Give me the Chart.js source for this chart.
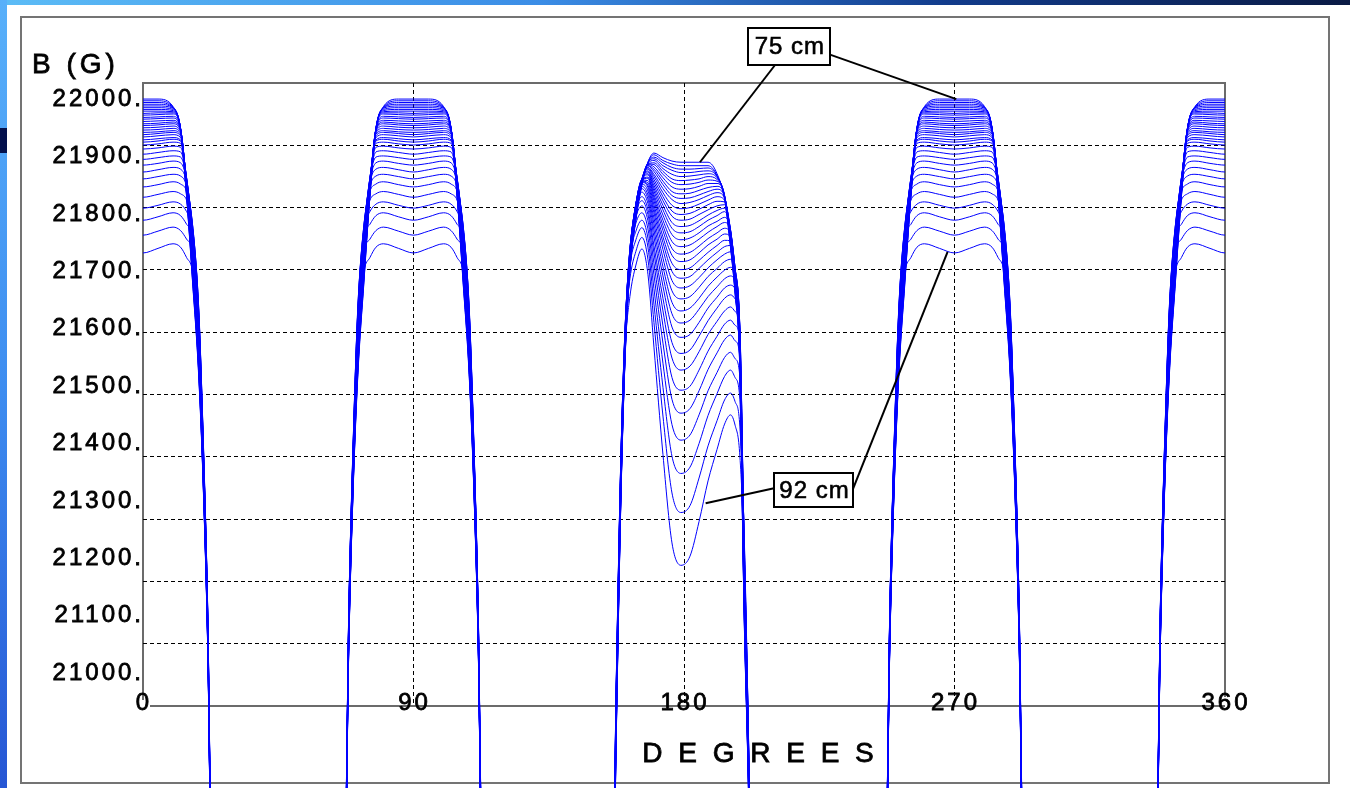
<!DOCTYPE html>
<html>
<head>
<meta charset="utf-8">
<title>B (G) vs DEGREES</title>
<script src="https://cdn.jsdelivr.net/npm/chart.js@4.4.0/dist/chart.umd.min.js"></script>
<style>
  html, body { margin: 0; padding: 0; background: #fff; }
  #slide { position: relative; width: 1350px; height: 788px; overflow: hidden; background: #fff; }
  #topbar { position: absolute; left: 0; top: 0; width: 1350px; height: 5px;
            background: linear-gradient(to right, #5cbcf6, #3b8de6 40%, #123c8c 70%, #0a1a44); }
  #sidebar { position: absolute; left: 0; top: 0; width: 7px; height: 788px;
             background: linear-gradient(to bottom, #58b0fa, #3d8cf0 50%, #2656d4); }
  #sidebar .mark { position: absolute; left: 0; top: 128px; width: 7px; height: 25px; background: #03104c; }
  #frame { position: absolute; left: 20px; top: 16px; width: 1306px; height: 764px; border: 2px solid #747474; }
  canvas { position: absolute; left: 0; top: 0; }
</style>
</head>
<body>
<div id="slide">
  <div id="topbar"></div>
  <div id="sidebar"><div class="mark"></div></div>
  <div id="frame"></div>
  <canvas id="fieldChart" width="1350" height="788"></canvas>
</div>
<script>
const FONT = '"Liberation Sans", Arial, Helvetica, sans-serif';

// one curve per radius, 75 cm (top) down to 92 cm (bottom)
const curveLabels = ['75 cm','75.5 cm','76 cm','76.5 cm','77 cm','77.5 cm','78 cm','78.5 cm','79 cm','79.5 cm',
  '80 cm','80.5 cm','81 cm','81.5 cm','82 cm','82.5 cm','83 cm','83.5 cm','84 cm','84.5 cm',
  '85 cm','85.5 cm','86 cm','86.5 cm','87 cm','87.5 cm','88 cm','88.5 cm','89 cm','89.5 cm',
  '90 cm','90.5 cm','91 cm','91.5 cm','92 cm'];

const degreeTicks = [0, 90, 180, 270, 360];
const fieldTicks = [21000, 21100, 21200, 21300, 21400, 21500, 21600, 21700, 21800, 21900, 22000];

// poles at 0, 90, 270 and 360 deg are alike and symmetric: B (G) at each offset, per curve
const poleCentres = [0, 90, 270, 360];
const poleOffsets = [0, 5, 10, 12.5, 14.5, 16.5, 18.5, 20, 21.5, 23];
const poleB = [
  [22000,21997,21994,21991,21988,21985,21982,21979,21975,21972,21968,21965,21961,21957,21954,21950,21946,21942,21938,21934,21929,21925,21920,21913,21904,21895,21885,21873,21861,21847,21829,21810,21789,21763,21732],
  [22000,21997,21994,21991,21988,21985,21982,21979,21976,21973,21969,21966,21962,21958,21955,21951,21947,21943,21940,21936,21931,21927,21922,21915,21907,21898,21888,21877,21865,21851,21834,21815,21795,21770,21740],
  [21987,21986,21985,21985,21984,21982,21980,21978,21976,21974,21970,21967,21963,21960,21957,21953,21949,21945,21942,21938,21933,21930,21925,21918,21910,21901,21892,21881,21869,21856,21839,21821,21802,21777,21748],
  [21945,21946,21947,21948,21948,21949,21949,21949,21949,21949,21948,21948,21947,21946,21945,21943,21941,21939,21936,21933,21929,21927,21923,21916,21908,21899,21889,21878,21866,21852,21835,21817,21797,21771,21742],
  [21830,21831,21833,21834,21836,21837,21839,21840,21842,21843,21845,21846,21848,21849,21851,21852,21854,21855,21856,21858,21859,21861,21862,21863,21863,21862,21859,21855,21848,21839,21824,21804,21782,21756,21724],
  [21680,21683,21687,21691,21694,21698,21701,21705,21708,21712,21715,21719,21722,21726,21729,21733,21736,21740,21743,21747,21751,21754,21758,21761,21765,21768,21772,21775,21779,21781,21780,21774,21759,21735,21700],
  [21520,21524,21528,21531,21535,21539,21543,21547,21551,21554,21558,21562,21566,21570,21574,21577,21581,21585,21589,21593,21596,21600,21604,21608,21612,21616,21619,21623,21627,21631,21635,21639,21641,21633,21603],
  [21330,21333,21335,21338,21341,21343,21346,21349,21351,21354,21356,21359,21362,21364,21367,21370,21372,21375,21378,21380,21383,21386,21388,21391,21394,21396,21399,21401,21404,21407,21409,21412,21415,21417,21401],
  [21050,21052,21054,21056,21058,21060,21062,21064,21066,21069,21071,21073,21075,21077,21079,21081,21083,21085,21087,21089,21091,21093,21095,21097,21099,21101,21104,21106,21108,21110,21112,21114,21116,21118,21120],
  [20600,20601,20603,20604,20606,20607,20609,20610,20612,20613,20615,20616,20618,20619,20621,20622,20624,20625,20626,20628,20629,20631,20632,20634,20635,20637,20638,20640,20641,20643,20644,20646,20647,20649,20650]
];

// the 180 deg pole, with its dip
const pole180Offsets = [-24, -22.5, -21, -19.5, -18, -16, -14, -12, -10, -7, -4, -1, 2, 5, 8, 11, 13.5, 15.5, 17, 18.5, 20, 21.5, 23];
const pole180B = [
  [20450,20453,20456,20459,20462,20465,20468,20471,20474,20477,20479,20482,20485,20488,20491,20494,20497,20500,20503,20506,20509,20512,20515,20518,20521,20524,20527,20529,20532,20535,20538,20541,20544,20547,20550],
  [20900,20903,20906,20909,20912,20915,20918,20921,20924,20927,20929,20932,20935,20938,20941,20944,20947,20950,20953,20956,20959,20962,20965,20968,20971,20974,20977,20979,20982,20985,20988,20991,20994,20997,21000],
  [21300,21302,21305,21307,21309,21312,21314,21316,21319,21321,21324,21326,21328,21331,21333,21335,21338,21340,21342,21345,21347,21349,21352,21354,21356,21359,21361,21364,21366,21368,21371,21373,21375,21378,21376],
  [21560,21562,21564,21565,21567,21569,21571,21572,21574,21576,21578,21579,21581,21583,21585,21586,21588,21590,21592,21594,21595,21597,21599,21601,21602,21604,21606,21608,21609,21611,21613,21615,21613,21602,21573],
  [21700,21701,21703,21704,21706,21707,21709,21710,21712,21713,21715,21716,21718,21719,21721,21722,21724,21725,21726,21728,21729,21731,21732,21734,21735,21737,21738,21739,21739,21737,21732,21723,21709,21687,21656],
  [21790,21791,21793,21794,21796,21797,21799,21800,21802,21803,21805,21806,21808,21809,21811,21812,21814,21815,21816,21817,21817,21818,21818,21818,21817,21815,21812,21807,21802,21795,21784,21770,21755,21735,21711],
  [21850,21851,21853,21854,21855,21856,21858,21858,21859,21860,21860,21861,21861,21861,21861,21861,21861,21860,21860,21859,21857,21856,21855,21852,21848,21844,21838,21830,21823,21814,21802,21789,21776,21759,21739],
  [21890,21890,21889,21889,21888,21887,21887,21886,21884,21884,21881,21880,21878,21875,21873,21870,21868,21864,21862,21858,21854,21850,21846,21840,21833,21826,21818,21808,21799,21788,21774,21758,21742,21721,21695],
  [21906,21903,21899,21896,21893,21889,21886,21882,21878,21874,21869,21865,21860,21855,21850,21845,21840,21834,21829,21823,21816,21809,21802,21793,21783,21772,21760,21745,21732,21714,21694,21670,21643,21611,21568],
  [21898,21893,21889,21884,21879,21874,21869,21863,21857,21851,21844,21837,21830,21823,21815,21807,21798,21789,21780,21771,21760,21750,21738,21723,21708,21692,21674,21653,21631,21605,21575,21540,21498,21448,21381],
  [21892,21887,21881,21876,21869,21861,21855,21847,21839,21832,21825,21815,21805,21796,21785,21775,21764,21752,21740,21728,21714,21700,21684,21666,21646,21626,21603,21576,21549,21515,21477,21433,21378,21314,21227],
  [21890,21884,21878,21872,21865,21858,21851,21843,21835,21827,21818,21809,21799,21789,21778,21767,21755,21743,21730,21717,21703,21688,21671,21652,21631,21610,21585,21557,21528,21493,21453,21406,21348,21280,21188],
  [21890,21884,21878,21872,21866,21859,21852,21844,21836,21828,21820,21811,21801,21791,21780,21769,21758,21746,21733,21720,21706,21691,21675,21656,21636,21615,21590,21563,21535,21500,21461,21415,21359,21292,21204],
  [21890,21884,21879,21874,21868,21861,21855,21848,21841,21833,21825,21817,21808,21799,21788,21778,21767,21756,21744,21732,21719,21705,21689,21672,21653,21634,21611,21587,21560,21528,21492,21450,21400,21340,21264],
  [21890,21884,21880,21875,21870,21865,21859,21853,21846,21839,21832,21824,21816,21807,21798,21789,21779,21768,21757,21746,21733,21720,21706,21691,21674,21656,21636,21614,21590,21561,21529,21492,21449,21396,21335],
  [21870,21867,21866,21865,21863,21860,21857,21853,21848,21843,21837,21830,21822,21814,21806,21797,21787,21778,21767,21756,21745,21733,21720,21705,21690,21673,21655,21636,21613,21587,21558,21524,21487,21440,21390],
  [21825,21827,21829,21830,21831,21832,21832,21832,21831,21830,21828,21824,21821,21816,21810,21804,21794,21785,21775,21765,21754,21743,21730,21717,21702,21687,21671,21653,21631,21608,21581,21550,21517,21476,21434],
  [21740,21742,21745,21747,21749,21752,21754,21756,21759,21761,21764,21766,21768,21771,21771,21772,21771,21769,21765,21760,21753,21745,21734,21721,21707,21692,21676,21659,21638,21615,21589,21559,21528,21488,21450],
  [21660,21662,21665,21667,21669,21672,21674,21676,21679,21681,21684,21686,21688,21691,21693,21695,21698,21700,21702,21705,21706,21706,21705,21700,21693,21683,21670,21652,21630,21606,21579,21548,21515,21473,21432],
  [21540,21543,21546,21549,21552,21555,21558,21561,21564,21567,21569,21572,21575,21578,21581,21584,21587,21590,21593,21596,21599,21602,21605,21608,21611,21614,21615,21611,21600,21583,21555,21521,21483,21436,21385],
  [21100,21104,21109,21113,21118,21122,21126,21131,21135,21140,21144,21149,21153,21157,21162,21166,21171,21175,21179,21184,21188,21193,21197,21201,21206,21210,21215,21219,21224,21228,21232,21237,21241,21246,21212],
  [20780,20783,20786,20789,20792,20795,20798,20801,20804,20807,20809,20812,20815,20818,20821,20824,20827,20830,20833,20836,20839,20842,20845,20848,20851,20854,20857,20859,20862,20865,20868,20871,20874,20877,20880],
  [20300,20303,20306,20309,20312,20315,20318,20321,20324,20327,20329,20332,20335,20338,20341,20344,20347,20350,20353,20356,20359,20362,20365,20368,20371,20374,20377,20379,20382,20385,20388,20391,20394,20397,20400]
];

// labelled radii and the points their leader lines run to (deg, G)
const callouts = [
  { text: '75 cm', at: [214.9, 22091], w: 82, h: 37,
    links: [{ from: [0.33, 1], to: [185.3, 21890] }, { from: [1, 0.72], to: [270.6, 22000] }] },
  { text: '92 cm', at: [223.1, 21319], w: 79, h: 34,
    links: [{ from: [0, 0.45], to: [187.2, 21296] }, { from: [1, 0.47], to: [267.7, 21734] }] }
];

function curvePoints(k) {
  const half = poleOffsets.map((o, c) => [o, poleB[c][k]]);
  const profile = half.slice(1).reverse().map(([o, b]) => [-o, b]).concat(half);
  const pts = [];
  const addPole = centre => profile.forEach(([o, b]) => pts.push({ x: centre + o, y: b }));
  addPole(poleCentres[0]);
  addPole(poleCentres[1]);
  pole180Offsets.forEach((o, c) => pts.push({ x: 180 + o, y: pole180B[c][k] }));
  addPole(poleCentres[2]);
  addPole(poleCentres[3]);
  return pts;
}

const datasets = curveLabels.map((label, k) => ({
  label,
  data: curvePoints(k),
  borderColor: '#0000ff',
  borderWidth: 1,
  pointRadius: 0,
  fill: false,
  cubicInterpolationMode: 'monotone',
  clip: { left: 0, top: 0, right: 0, bottom: false }
}));

const hideEdges = (a, b) => c => (c.tick && (c.tick.value === a || c.tick.value === b)) ? 'rgba(0,0,0,0)' : '#000';

// filled text with a thin outline so it reads a little heavier
function heavyText(ctx, text, x, y) {
  ctx.strokeText(text, x, y);
  ctx.fillText(text, x, y);
}

const decorations = {
  id: 'decorations',
  beforeDraw(chart) {
    const { ctx, chartArea: a } = chart;
    ctx.save();
    ctx.strokeStyle = '#6b6b6b';
    ctx.lineWidth = 2;
    ctx.beginPath();
    ctx.moveTo(a.left, a.bottom - 6);
    ctx.lineTo(a.left, a.top);
    ctx.lineTo(a.right, a.top);
    ctx.lineTo(a.right, a.bottom - 9);
    ctx.moveTo(a.left + 7, a.bottom);
    ctx.lineTo(a.right, a.bottom);
    ctx.stroke();
    ctx.restore();
    ctx.letterSpacing = '3px';
  },
  afterDraw(chart) {
    const { ctx, chartArea: a, scales: { x, y } } = chart;
    ctx.save();
    ctx.fillStyle = '#000';
    ctx.strokeStyle = '#000';
    ctx.lineWidth = 0.8;

    // degree labels sit across the axis line
    ctx.font = '24px ' + FONT;
    ctx.letterSpacing = '3px';
    ctx.textAlign = 'center';
    ctx.textBaseline = 'alphabetic';
    degreeTicks.forEach(v => heavyText(ctx, String(v), x.getPixelForValue(v) + 1, a.bottom + 4));

    ctx.font = '28px ' + FONT;
    ctx.letterSpacing = '4px';
    ctx.textAlign = 'left';
    heavyText(ctx, 'B (G)', a.left - 111, a.top - 10);
    ctx.textAlign = 'center';
    heavyText(ctx, 'D E G R E E S', a.left + 617, a.bottom + 56);

    callouts.forEach(c => {
      const cx = x.getPixelForValue(c.at[0]);
      const cy = y.getPixelForValue(c.at[1]);
      const bx = Math.round(cx - c.w / 2), by = Math.round(cy - c.h / 2);
      ctx.strokeStyle = '#000';
      ctx.lineWidth = 2;
      c.links.forEach(l => {
        ctx.beginPath();
        ctx.moveTo(bx + l.from[0] * c.w, by + l.from[1] * c.h);
        ctx.lineTo(x.getPixelForValue(l.to[0]), y.getPixelForValue(l.to[1]));
        ctx.stroke();
      });
      ctx.fillStyle = '#fff';
      ctx.fillRect(bx, by, c.w, c.h);
      ctx.strokeRect(bx, by, c.w, c.h);
      ctx.fillStyle = '#000';
      ctx.lineWidth = 0.6;
      ctx.font = '24px ' + FONT;
      ctx.letterSpacing = '1px';
      ctx.textBaseline = 'middle';
      heavyText(ctx, c.text, cx + 1, cy + 1);
    });
    ctx.restore();
    ctx.letterSpacing = '0px';
  }
};

new Chart(document.getElementById('fieldChart'), {
  type: 'line',
  data: { datasets },
  options: {
    responsive: false,
    animation: false,
    events: [],
    layout: { padding: { left: 20, right: 125, top: 83, bottom: 0 } },
    plugins: { legend: { display: false }, tooltip: { enabled: false } },
    scales: {
      x: {
        type: 'linear',
        min: 0,
        max: 360,
        afterBuildTicks: s => { s.ticks = degreeTicks.map(v => ({ value: v })); },
        afterFit: s => { s.height = 82; },
        ticks: { display: false },
        grid: { color: hideEdges(0, 360), lineWidth: 1, drawTicks: false },
        border: { display: false, dash: [4, 3] }
      },
      y: {
        type: 'linear',
        min: 20943,
        max: 22028,
        afterBuildTicks: s => { s.ticks = fieldTicks.map(v => ({ value: v })); },
        afterFit: s => { s.width = 123; },
        ticks: {
          color: '#000', padding: -1, autoSkip: false,
          font: { family: FONT, size: 24 },
          textStrokeColor: '#000', textStrokeWidth: 0.8,
          callback: v => v + '.'
        },
        grid: { display: false, drawTicks: false },
        border: { display: false }
      },
      yGrid: {
        type: 'linear',
        position: 'right',
        min: 0,
        max: 10,
        afterFit: s => { s.width = 0; },
        ticks: { display: false, stepSize: 1 },
        grid: { color: hideEdges(0, 10), lineWidth: 1, drawTicks: false },
        border: { display: false, dash: [4, 3] }
      }
    }
  },
  plugins: [decorations]
});
</script>
</body>
</html>
